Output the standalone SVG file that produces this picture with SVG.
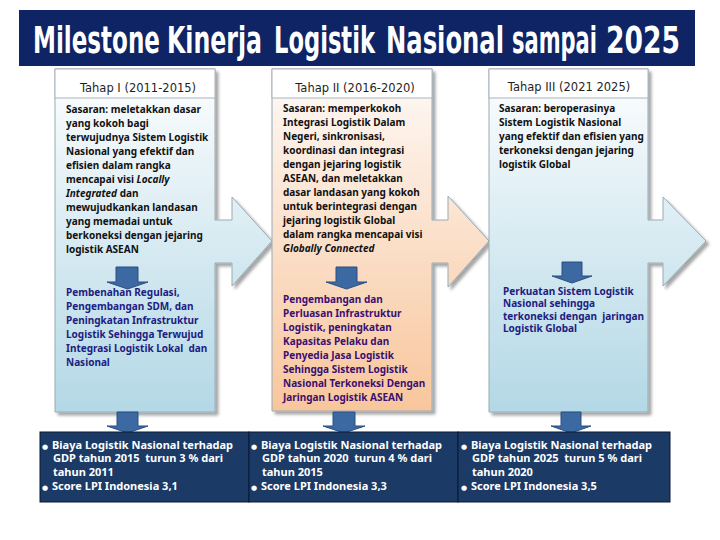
<svg xmlns="http://www.w3.org/2000/svg" width="720" height="540" viewBox="0 0 720 540">
<defs>
  <linearGradient id="gBlue" x1="0" y1="0" x2="0" y2="1">
    <stop offset="0" stop-color="#ffffff"/>
    <stop offset="0.12" stop-color="#f4f9fb"/>
    <stop offset="1" stop-color="#b3d8e6"/>
  </linearGradient>
  <linearGradient id="gPeach" x1="0" y1="0" x2="0" y2="1">
    <stop offset="0" stop-color="#ffffff"/>
    <stop offset="0.12" stop-color="#fdf3ec"/>
    <stop offset="1" stop-color="#f8c69c"/>
  </linearGradient>
  <filter id="shadow" x="-10%" y="-10%" width="125%" height="125%">
    <feDropShadow dx="3" dy="3" stdDeviation="1.5" flood-color="#000" flood-opacity="0.35"/>
  </filter>
  <style>
    .title{font-family:"Liberation Sans Narrow","DejaVu Sans Condensed","DejaVu Sans",sans-serif;font-weight:bold;font-size:26px;fill:#ffffff}
    .shape{stroke:#98aab5;stroke-width:1}
    .hdr{fill:#ffffff;stroke:#a8b4bc;stroke-width:1}
    .htxt{font-family:"DejaVu Sans",Verdana,sans-serif;font-size:11.5px;fill:#1e1e1e;text-anchor:middle}
    .body{font-family:"Noto Sans","DejaVu Sans",sans-serif;font-weight:bold;font-size:10px;fill:#111111}
    .res{font-family:"Noto Sans","DejaVu Sans",sans-serif;font-weight:bold;font-size:10px;fill:#1d2080}
    .res2{fill:#3a1070}
    .dn{fill:#3c69a2;stroke:#2a4f82;stroke-width:1}
    .cell{fill:#1b3a66;stroke:#0b1830;stroke-width:1}
    .ctxt{font-family:"Noto Sans","DejaVu Sans",sans-serif;font-weight:bold;font-size:11px;fill:#ffffff;white-space:pre}
    .bul{font-size:7px}
  </style>
</defs>
<rect width="720" height="540" fill="#ffffff"/>

<g id="title">
  <rect x="19" y="10" width="676" height="56" fill="#0e2464"/>
  <g transform="translate(0,53) scale(1,1.45)">
    <text class="title" x="33" y="0" textLength="127" lengthAdjust="spacingAndGlyphs">Milestone</text>
    <text class="title" x="167" y="0" textLength="95" lengthAdjust="spacingAndGlyphs">Kinerja</text>
    <text class="title" x="274" y="0" textLength="101" lengthAdjust="spacingAndGlyphs">Logistik</text>
    <text class="title" x="386" y="0" textLength="118" lengthAdjust="spacingAndGlyphs">Nasional</text>
    <text class="title" x="512" y="0" textLength="85" lengthAdjust="spacingAndGlyphs">sampai</text>
    <text class="title" x="606" y="0" textLength="74" lengthAdjust="spacingAndGlyphs">2025</text>
  </g>
</g>

<g id="stage1">
  <polygon class="shape" filter="url(#shadow)" fill="url(#gBlue)" points="55,69 215,69 215,220 232,220 232,197 272,241 232,286 232,263 215,263 215,412 55,412"/>
  <rect class="hdr" x="55" y="69" width="160" height="29"/>
  <text class="htxt" x="138" y="92">Tahap I (2011-2015)</text>
  <text class="body" x="66" y="112.5">Sasaran: meletakkan dasar</text>
  <text class="body" x="66" y="126.5">yang kokoh bagi</text>
  <text class="body" x="66" y="140.5">terwujudnya Sistem Logistik</text>
  <text class="body" x="66" y="154.5">Nasional yang efektif dan</text>
  <text class="body" x="66" y="168.5">efisien dalam rangka</text>
  <text class="body" x="66" y="182.5">mencapai visi <tspan font-style="italic">Locally</tspan></text>
  <text class="body" x="66" y="196.5"><tspan font-style="italic">Integrated</tspan> dan</text>
  <text class="body" x="66" y="210.5">mewujudkankan landasan</text>
  <text class="body" x="66" y="224.5">yang memadai untuk</text>
  <text class="body" x="66" y="238.5">berkoneksi dengan jejaring</text>
  <text class="body" x="66" y="252.5">logistik ASEAN</text>
  <text class="res" x="66" y="295.5">Pembenahan Regulasi,</text>
  <text class="res" x="66" y="309.5">Pengembangan SDM, dan</text>
  <text class="res" x="66" y="323.5">Peningkatan Infrastruktur</text>
  <text class="res" x="66" y="337.5">Logistik Sehingga Terwujud</text>
  <text class="res" x="66" y="351.5" style="white-space:pre">Integrasi Logistik Lokal  dan</text>
  <text class="res" x="66" y="365.5">Nasional</text>
</g>

<g id="stage2">
  <polygon class="shape" filter="url(#shadow)" fill="url(#gPeach)" points="272,69 432,69 432,220 448,220 448,196 489,241 448,287 448,263 432,263 432,411 272,411"/>
  <rect class="hdr" x="272" y="69" width="160" height="29"/>
  <text class="htxt" x="355" y="92">Tahap II (2016-2020)</text>
  <text class="body" x="283" y="112">Sasaran: memperkokoh</text>
  <text class="body" x="283" y="126">Integrasi Logistik Dalam</text>
  <text class="body" x="283" y="140">Negeri, sinkronisasi,</text>
  <text class="body" x="283" y="154">koordinasi dan integrasi</text>
  <text class="body" x="283" y="168">dengan jejaring logistik</text>
  <text class="body" x="283" y="182">ASEAN, dan meletakkan</text>
  <text class="body" x="283" y="196">dasar landasan yang kokoh</text>
  <text class="body" x="283" y="210">untuk berintegrasi dengan</text>
  <text class="body" x="283" y="224">jejaring logistik Global</text>
  <text class="body" x="283" y="238">dalam rangka mencapai visi</text>
  <text class="body" x="283" y="252" font-style="italic">Globally Connected</text>
  <text class="res res2" x="283" y="302.5">Pengembangan dan</text>
  <text class="res res2" x="283" y="316.5">Perluasan Infrastruktur</text>
  <text class="res res2" x="283" y="330.5">Logistik, peningkatan</text>
  <text class="res res2" x="283" y="344.5">Kapasitas Pelaku dan</text>
  <text class="res res2" x="283" y="358.5">Penyedia Jasa Logistik</text>
  <text class="res res2" x="283" y="372.5">Sehingga Sistem Logistik</text>
  <text class="res res2" x="283" y="386.5">Nasional Terkoneksi Dengan</text>
  <text class="res res2" x="283" y="400.5">Jaringan Logistik ASEAN</text>
</g>

<g id="stage3">
  <polygon class="shape" filter="url(#shadow)" fill="url(#gBlue)" points="489,69 648,69 648,220 663,220 663,197 706,241 663,286 663,263 648,263 648,412 489,412"/>
  <rect class="hdr" x="489" y="69" width="159" height="29"/>
  <text class="htxt" x="569" y="91">Tahap III (2021 2025)</text>
  <text class="body" x="499" y="112">Sasaran: beroperasinya</text>
  <text class="body" x="499" y="126">Sistem Logistik Nasional</text>
  <text class="body" x="499" y="140">yang efektif dan efisien yang</text>
  <text class="body" x="499" y="154">terkoneksi dengan jejaring</text>
  <text class="body" x="499" y="168">logistik Global</text>
  <text class="res" x="503" y="294.5">Perkuatan Sistem Logistik</text>
  <text class="res" x="503" y="307">Nasional sehingga</text>
  <text class="res" x="503" y="319.5" style="white-space:pre">terkoneksi dengan  jaringan</text>
  <text class="res" x="503" y="332">Logistik Global</text>
</g>

<g id="connectors">
  <path class="dn" d="M116,267 H138 V282 H148 L127.5,289 L107,282 H116 Z"/>
  <path class="dn" d="M117,412 H138 V426 H148 L127.5,433 L107,426 H117 Z"/>
  <path class="dn" d="M336,267 H357 V282 H367 L346.5,289 L326,282 H336 Z"/>
  <path class="dn" d="M333,412 H355 V426 H365 L344,433 L323,426 H333 Z"/>
  <path class="dn" d="M562,262 H582 V276 H592 L572,283 L552,276 H562 Z"/>
  <path class="dn" d="M561,412 H581 V426 H591 L571,433 L551,426 H561 Z"/>
</g>

<g id="result1">
  <rect class="cell" x="40" y="432" width="209" height="70"/>
  <text class="ctxt" x="42" y="448.5"><tspan class="bul">●</tspan><tspan x="52">Biaya Logistik Nasional terhadap</tspan></text>
  <text class="ctxt" x="53" y="462">GDP tahun 2015  turun 3 % dari</text>
  <text class="ctxt" x="53" y="476">tahun 2011</text>
  <text class="ctxt" x="42" y="489.5"><tspan class="bul">●</tspan><tspan x="52">Score LPI Indonesia 3,1</tspan></text>
</g>

<g id="result2">
  <rect class="cell" x="249" y="432" width="209" height="70"/>
  <text class="ctxt" x="251" y="448.5"><tspan class="bul">●</tspan><tspan x="261">Biaya Logistik Nasional terhadap</tspan></text>
  <text class="ctxt" x="262" y="462">GDP tahun 2020  turun 4 % dari</text>
  <text class="ctxt" x="262" y="476">tahun 2015</text>
  <text class="ctxt" x="251" y="489.5"><tspan class="bul">●</tspan><tspan x="261">Score LPI Indonesia 3,3</tspan></text>
</g>

<g id="result3">
  <rect class="cell" x="458" y="432" width="212" height="70"/>
  <text class="ctxt" x="461" y="448.5"><tspan class="bul">●</tspan><tspan x="471">Biaya Logistik Nasional terhadap</tspan></text>
  <text class="ctxt" x="472" y="462">GDP tahun 2025  turun 5 % dari</text>
  <text class="ctxt" x="472" y="476">tahun 2020</text>
  <text class="ctxt" x="461" y="489.5"><tspan class="bul">●</tspan><tspan x="471">Score LPI Indonesia 3,5</tspan></text>
</g>
</svg>
